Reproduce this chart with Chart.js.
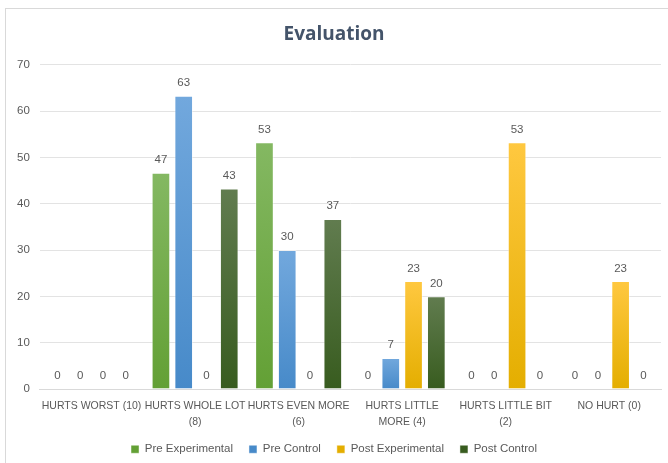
<!DOCTYPE html>
<html>
<head>
<meta charset="utf-8">
<script src="https://cdn.jsdelivr.net/npm/chart.js@4.4.1/dist/chart.umd.min.js"></script>
<style>
  html, body { margin: 0; padding: 0; background: #fff; }
  #wrap { position: absolute; left: 0; top: 0; width: 668px; height: 463px; }
  #frame { position: absolute; left: 5px; top: 8px; width: 700px; height: 500px; border: 1px solid #d9d9d9; box-sizing: border-box; }
</style>
</head>
<body>
<div id="frame"></div>
<div id="wrap"><canvas id="chart" width="668" height="463"></canvas></div>
<script>
// danh muc va so lieu
const categories = [
  "HURTS WORST (10)",
  ["HURTS WHOLE LOT", "(8)"],
  ["HURTS EVEN MORE", "(6)"],
  ["HURTS LITTLE", "MORE (4)"],
  ["HURTS LITTLE BIT", "(2)"],
  "NO HURT (0)",
];
const preExperimental = [0, 46.7, 53.3, 0, 0, 0];
const preControl = [0, 63.3, 30, 6.7, 0, 0];
const postExperimental = [0, 0, 0, 23.3, 53.3, 23.3];
const postControl = [0, 43.3, 36.7, 20, 0, 0];
const yTicks = [0, 10, 20, 30, 40, 50, 60, 70];

const FONT = "'Liberation Sans', Arial, sans-serif";
const TEXT = "#595959";

// mau gradient cho tung cot (tren, duoi)
function gradient(top, bottom) {
  return (ctx) => {
    const chart = ctx.chart;
    if (!chart.chartArea || ctx.raw === undefined) return bottom;
    const y = chart.scales.y;
    const y0 = y.getPixelForValue(0);
    const y1 = y.getPixelForValue(ctx.raw);
    if (Math.abs(y0 - y1) < 1) return bottom;
    const g = chart.ctx.createLinearGradient(0, y1, 0, y0);
    g.addColorStop(0, top);
    g.addColorStop(1, bottom);
    return g;
  };
}

// nhan gia tri tren dau cot
const valueLabels = {
  id: "valueLabels",
  afterDatasetsDraw(chart) {
    const c = chart.ctx;
    c.save();
    c.font = "11.5px " + FONT;
    c.fillStyle = TEXT;
    c.textAlign = "center";
    c.textBaseline = "bottom";
    chart.data.datasets.forEach((ds, i) => {
      chart.getDatasetMeta(i).data.forEach((bar, j) => {
        c.fillText(Math.round(ds.data[j]), bar.x, bar.y - 7);
      });
    });
    c.restore();
  },
};

new Chart(document.getElementById("chart"), {
  type: "bar",
  data: {
    labels: categories,
    datasets: [
      { label: "Pre Experimental", data: preExperimental, backgroundColor: gradient("#84b862", "#63a035") },
      { label: "Pre Control", data: preControl, backgroundColor: gradient("#72a8dd", "#478ac9") },
      { label: "Post Experimental", data: postExperimental, backgroundColor: gradient("#ffc840", "#e4ae00") },
      { label: "Post Control", data: postControl, backgroundColor: gradient("#617c4f", "#385c1f") },
    ],
  },
  options: {
    responsive: false,
    animation: false,
    layout: { padding: { left: 7, right: 7, top: 13, bottom: -2 } },
    datasets: {
      bar: {
        categoryPercentage: 0.88,
        barPercentage: 0.82,
        borderColor: "rgba(255,255,255,0.45)",
        borderWidth: 1,
        borderSkipped: "bottom",
      },
    },
    scales: {
      x: {
        grid: { display: false, drawTicks: false },
        border: { color: "#d9d9d9" },
        ticks: {
          color: TEXT,
          font: { family: FONT, size: 10.5, lineHeight: 1.5 },
          maxRotation: 0,
          autoSkip: false,
          padding: 9,
        },
        // bot chieu cao truc x de chu thich nam sat duoi
        afterFit: (axis) => { axis.height -= 11; },
      },
      y: {
        min: 0,
        max: 70,
        afterBuildTicks: (axis) => { axis.ticks = yTicks.map((v) => ({ value: v })); },
        grid: { color: "#e3e3e3", drawTicks: false },
        border: { display: false },
        ticks: {
          color: TEXT,
          font: { family: FONT, size: 11.5 },
          padding: 10,
        },
      },
    },
    plugins: {
      title: {
        display: true,
        text: "Evaluation",
        color: "#44546a",
        font: { family: "'Open Sans', sans-serif", size: 19, weight: "bold" },
        padding: { top: 10, bottom: 19 },
      },
      legend: {
        position: "bottom",
        labels: {
          color: TEXT,
          font: { family: FONT, size: 11.5 },
          boxWidth: 8,
          boxHeight: 8,
          padding: 16,
        },
      },
      tooltip: { enabled: false },
    },
  },
  plugins: [valueLabels],
});
</script>
</body>
</html>
